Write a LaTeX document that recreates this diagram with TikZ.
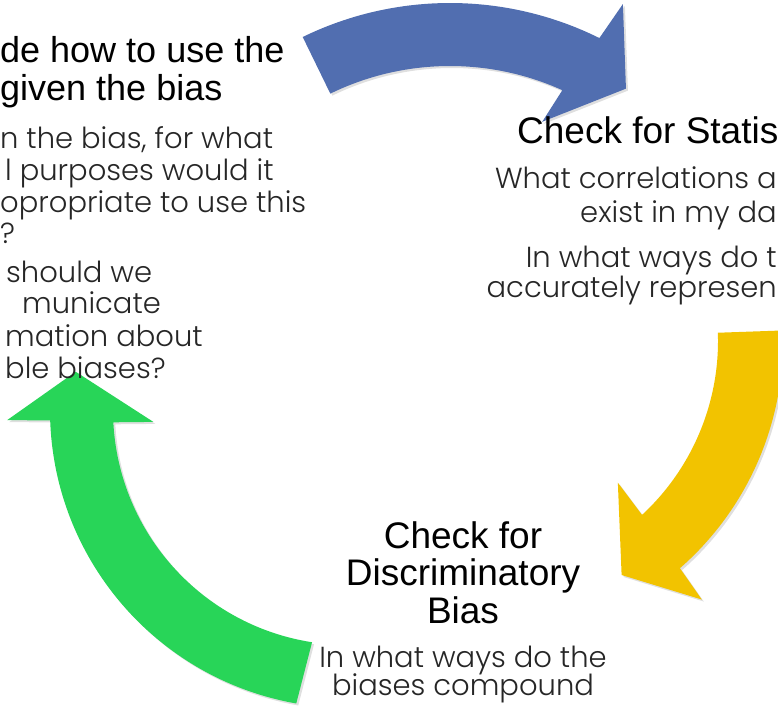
\documentclass[tikz,border=0pt]{standalone}
\usepackage{fontspec}
\setmainfont{Liberation Sans}
\newfontfamily\bodyfont{Poppins Light}
\usetikzlibrary{calc, shadows}
\definecolor{arrowblue}{RGB}{81,110,176}
\definecolor{arrowyellow}{RGB}{242,195,0}
\definecolor{arrowgreen}{RGB}{40,213,88}

\begin{document}
\begin{tikzpicture}
          [
            x=1pt, y=-1pt,
            title/.style={anchor=base west, inner sep=0pt, font=\fontsize{37}{38}\selectfont},
            ctitle/.style={title, anchor=base},
            body/.style={anchor=base west, inner sep=0pt, text=black!85, font=\bodyfont\fontsize{29}{31}\selectfont},
            band/.style={drop shadow={opacity=0.25, shadow xshift=2pt, shadow yshift=-2pt}}
          ]
          \useasboundingbox (0,0) rectangle (778,706);
          \clip (0,0) rectangle (778,706);
          % centres of the three bands
          \coordinate (bc) at (450,339);
          \coordinate (yc) at (481,341);
          \coordinate (gc) at (348,410);
          % blue band
          \fill [arrowblue, band]
          ($(bc)+(-116:336)$) arc [start angle=-116, end angle=-63.6, radius=336]
          -- ($(bc)+(-62.7:377)$) -- ($(bc)+(-54.9:306)$) -- ($(bc)+(-67:236)$)
          -- ($(bc)+(-65.7:273)$) arc [start angle=-65.7, end angle=-116, radius=273] -- cycle;
          % yellow band
          \fill [arrowyellow, band]
          ($(yc)+(-2:302)$) arc [start angle=-2, end angle=48.8, radius=302]
          -- ($(yc)+(49.5:340)$) -- ($(yc)+(59:273)$) -- ($(yc)+(46:197)$)
          -- ($(yc)+(47.2:237)$) arc [start angle=47.2, end angle=-2, radius=237] -- cycle;
          % green band
          \fill [arrowgreen, band]
          ($(gc)+(100:298)$) arc [start angle=100, end angle=178, radius=298]
          -- ($(gc)+(178.3:341)$) -- ($(gc)+(188:275)$) -- ($(gc)+(176.5:195)$)
          -- ($(gc)+(177:235)$) arc [start angle=177, end angle=98.8, radius=235] -- cycle;
          % titles
          \node [title, font=\fontsize{36}{37}\selectfont] (use1) at (0,63) {de how to use the};
          \node [title, font=\fontsize{36}{37}\selectfont] (use2) at (0,100) {given the bias};
          \node [title] (stat) at (517,143) {Check for Statis};
          \node [ctitle] (disc1) at (463,548) {Check for};
          \node [ctitle] (disc2) at (463,585) {Discriminatory};
          \node [ctitle] (disc3) at (463,623) {Bias};
          % left questions
          \foreach \x/\y/\t in {0/148/{n the bias, for what}, 5/180/{l purposes would it},
                                0/212/{opropriate to use this}, 0/243/{?}, 6/282/{should we},
                                22/313/{municate}, 5/346/{mation about}, 5/378/{ble biases?}} {
              \node [body] (left\y) at (\x,\y) {\t};
          }
          % right questions
          \foreach \y/\t in {188/{What correlations a}, 222/{exist in my da},
                             267/{In what ways do t}, 297/{accurately represen}} {
              \node [body, anchor=base east] (right\y) at (777,\y) {\t};
          }
          % bottom questions
          \node [body, anchor=base] (comp1) at (463,667) {In what ways do the};
          \node [body, anchor=base] (comp2) at (463,695) {biases compound};
        \end{tikzpicture}
\end{document}
